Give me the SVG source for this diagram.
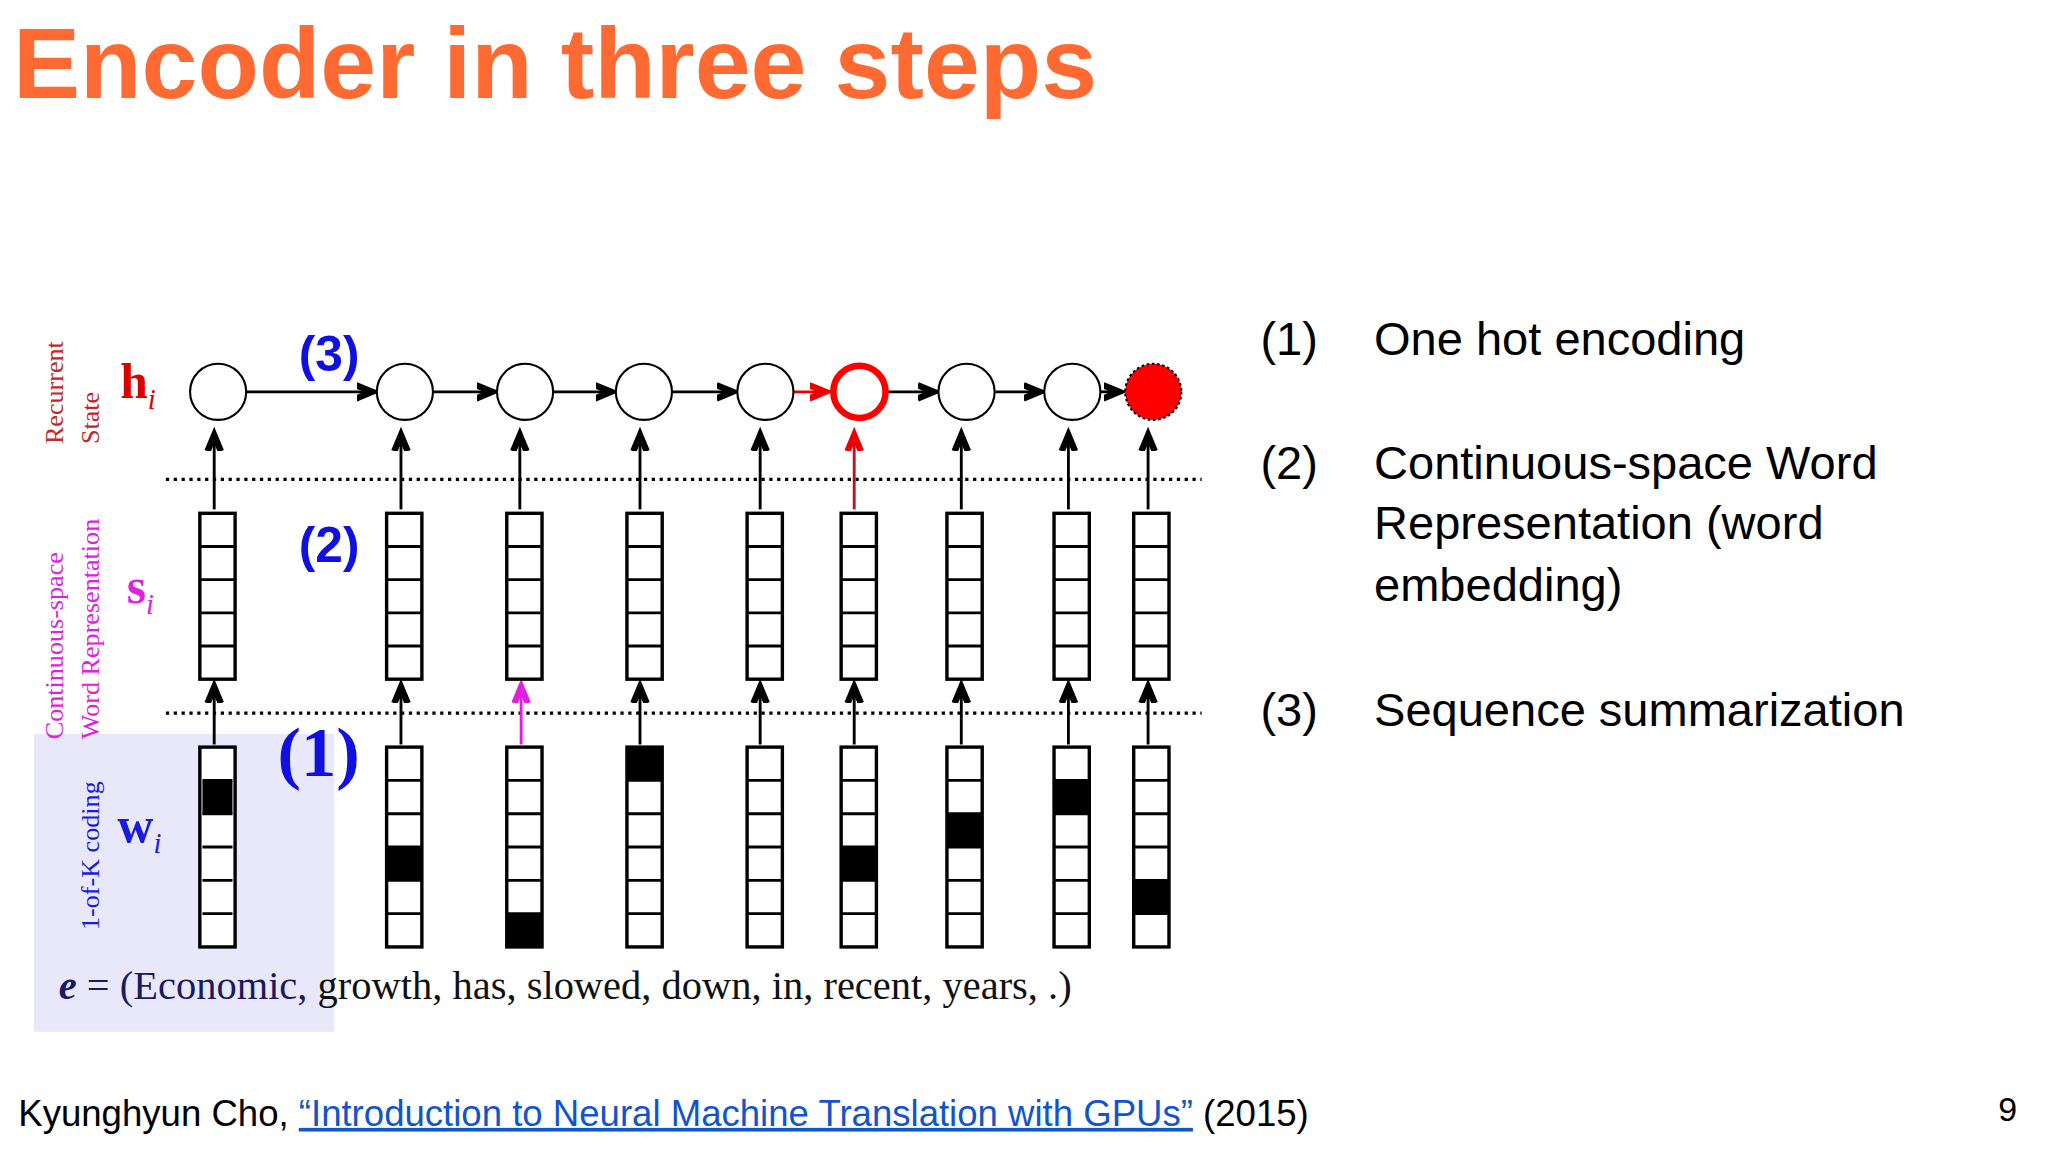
<svg xmlns="http://www.w3.org/2000/svg" width="2048" height="1152" viewBox="0 0 2048 1152">
<defs>
<style>
.sans{font-family:"Liberation Sans",Arial,sans-serif}
.serif{font-family:"Liberation Serif","Times New Roman",serif}
.cell{fill:#fff;stroke:#000;stroke-width:2.6}
.blk{fill:#000}
.ln{stroke:#000;stroke-width:2.2;fill:none}
.dot{stroke:#000;stroke-width:2.5;stroke-dasharray:2.5 3.5}
.rt{font-size:36px;fill:#000}
</style>
<marker id="ah" markerUnits="userSpaceOnUse" markerWidth="30" markerHeight="20" viewBox="-12 -8 24 16" refX="0" refY="0" orient="auto">
<path d="M-12,-5 L0,0 L-12,5 M-17,-5 L-5,0 L-17,5" fill="none" stroke="#000" stroke-width="2"/>
</marker>
<marker id="ahr" markerUnits="userSpaceOnUse" markerWidth="30" markerHeight="20" viewBox="-12 -8 24 16" refX="0" refY="0" orient="auto">
<path d="M-12,-5 L0,0 L-12,5 M-17,-5 L-5,0 L-17,5" fill="none" stroke="#e00" stroke-width="2"/>
</marker>
<marker id="ahm" markerUnits="userSpaceOnUse" markerWidth="30" markerHeight="20" viewBox="-12 -8 24 16" refX="0" refY="0" orient="auto">
<path d="M-12,-5 L0,0 L-12,5 M-17,-5 L-5,0 L-17,5" fill="none" stroke="#e020e0" stroke-width="2"/>
</marker>
</defs>
<rect width="2048" height="1152" fill="#fff"/>
<g transform="scale(1.30612)">
<text x="10" y="75" class="sans" font-size="77" font-weight="bold" fill="#FF6A33">Encoder in three steps</text>

<rect x="26" y="562" width="230" height="228" fill="#E8E8FA"/>

<g id="labels">
<text transform="translate(48,340) rotate(-90)" class="serif" font-size="20" fill="#c0282c">Recurrent</text>
<text transform="translate(76,340) rotate(-90)" class="serif" font-size="20" fill="#c0282c">State</text>
<text transform="translate(48,566) rotate(-90)" class="serif" font-size="20" fill="#e020e0">Continuous-space</text>
<text transform="translate(76,566) rotate(-90)" class="serif" font-size="20" fill="#e020e0">Word Representation</text>
<text transform="translate(76,712) rotate(-90)" class="serif" font-size="20" fill="#1a1ae0">1-of-K coding</text>
<text x="92" y="305" class="serif" font-size="38" font-weight="bold" fill="#d00">h<tspan font-size="22" font-style="italic" font-weight="normal" dy="8">i</tspan></text>
<text x="97" y="462" class="serif" font-size="38" font-weight="bold" fill="#e020e0">s<tspan font-size="22" font-style="italic" font-weight="normal" dy="8">i</tspan></text>
<text x="90" y="645" class="serif" font-size="38" font-weight="bold" fill="#1a1ae0">w<tspan font-size="22" font-style="italic" font-weight="normal" dy="8">i</tspan></text>
<text x="252" y="284" class="sans" font-size="38" font-weight="bold" fill="#1010e0" text-anchor="middle">(3)</text>
<text x="252" y="430" class="sans" font-size="38" font-weight="bold" fill="#1010e0" text-anchor="middle">(2)</text>
<text x="244" y="594" class="serif" font-size="54" font-weight="bold" fill="#1010e0" text-anchor="middle">(1)</text>
<text x="45" y="765" class="serif" font-size="31" fill="#111"><tspan font-weight="bold" font-style="italic" fill="#1a1a60">e</tspan><tspan fill="#1a1a60"> = (Economic,</tspan> growth, has, slowed, down, in, recent, years, .)</text>
</g>

<g id="dotted">
<line class="dot" x1="127" y1="367" x2="920" y2="367"/>
<line class="dot" x1="127" y1="546" x2="920" y2="546"/>
</g>

<g id="connectors">
<line class="ln" x1="189" y1="300" x2="288" y2="300" marker-end="url(#ah)"/>
<line class="ln" x1="332" y1="300" x2="380" y2="300" marker-end="url(#ah)"/>
<line class="ln" x1="424" y1="300" x2="471" y2="300" marker-end="url(#ah)"/>
<line class="ln" x1="515" y1="300" x2="564" y2="300" marker-end="url(#ah)"/>
<line x1="608" y1="300" x2="635" y2="300" stroke="#e00" stroke-width="2.2" marker-end="url(#ahr)"/>
<line class="ln" x1="679" y1="300" x2="718" y2="300" marker-end="url(#ah)"/>
<line class="ln" x1="762" y1="300" x2="799" y2="300" marker-end="url(#ah)"/>
<line class="ln" x1="843" y1="300" x2="860" y2="300" marker-end="url(#ah)"/>
<g id="up1">
<line class="ln" x1="164" y1="390" x2="164" y2="330" marker-end="url(#ah)"/>
<line class="ln" x1="307" y1="390" x2="307" y2="330" marker-end="url(#ah)"/>
<line class="ln" x1="398" y1="390" x2="398" y2="330" marker-end="url(#ah)"/>
<line class="ln" x1="490" y1="390" x2="490" y2="330" marker-end="url(#ah)"/>
<line class="ln" x1="582" y1="390" x2="582" y2="330" marker-end="url(#ah)"/>
<line x1="654" y1="390" x2="654" y2="330" stroke="#c01020" stroke-width="2.2" marker-end="url(#ahr)"/>
<line class="ln" x1="736" y1="390" x2="736" y2="330" marker-end="url(#ah)"/>
<line class="ln" x1="818" y1="390" x2="818" y2="330" marker-end="url(#ah)"/>
<line class="ln" x1="879" y1="390" x2="879" y2="330" marker-end="url(#ah)"/>
</g>
<g id="up2">
<line class="ln" x1="164" y1="570" x2="164" y2="523" marker-end="url(#ah)"/>
<line class="ln" x1="307" y1="570" x2="307" y2="523" marker-end="url(#ah)"/>
<line x1="399" y1="570" x2="399" y2="523" stroke="#e020e0" stroke-width="2.2" marker-end="url(#ahm)"/>
<line class="ln" x1="490" y1="570" x2="490" y2="523" marker-end="url(#ah)"/>
<line class="ln" x1="582" y1="570" x2="582" y2="523" marker-end="url(#ah)"/>
<line class="ln" x1="654" y1="570" x2="654" y2="523" marker-end="url(#ah)"/>
<line class="ln" x1="736" y1="570" x2="736" y2="523" marker-end="url(#ah)"/>
<line class="ln" x1="818" y1="570" x2="818" y2="523" marker-end="url(#ah)"/>
<line class="ln" x1="879" y1="570" x2="879" y2="523" marker-end="url(#ah)"/>
</g>
</g>

<g id="h-nodes" fill="#fff" stroke="#000" stroke-width="1.6">
<circle id="h1" cx="167" cy="300" r="21.5"/>
<circle id="h2" cx="310" cy="300" r="21.5"/>
<circle id="h3" cx="402" cy="300" r="21.5"/>
<circle id="h4" cx="493" cy="300" r="21.5"/>
<circle id="h5" cx="586" cy="300" r="21.5"/>
<circle id="h6" cx="658" cy="300" r="20" stroke="#f00" stroke-width="5"/>
<circle id="h7" cx="740" cy="300" r="21.5"/>
<circle id="h8" cx="821" cy="300" r="21.5"/>
<circle id="h9" cx="883" cy="300" r="21.5" fill="#f00" stroke-dasharray="2 2"/>
</g>

<g id="s-nodes">
<g id="s1"><rect class="cell" x="153" y="393" width="27" height="127"/><path class="ln" stroke-width="2.6" d="M153,418.4h27M153,443.8h27M153,469.2h27M153,494.6h27"/></g>
<g id="s2"><rect class="cell" x="296" y="393" width="27" height="127"/><path class="ln" stroke-width="2.6" d="M296,418.4h27M296,443.8h27M296,469.2h27M296,494.6h27"/></g>
<g id="s3"><rect class="cell" x="388" y="393" width="27" height="127" stroke="#e020e0" stroke-width="3.5"/><path class="ln" stroke-width="2.6" d="M389,418.4h25M389,443.8h25M389,469.2h25M389,494.6h25"/></g>
<g id="s4"><rect class="cell" x="480" y="393" width="27" height="127"/><path class="ln" stroke-width="2.6" d="M480,418.4h27M480,443.8h27M480,469.2h27M480,494.6h27"/></g>
<g id="s5"><rect class="cell" x="572" y="393" width="27" height="127"/><path class="ln" stroke-width="2.6" d="M572,418.4h27M572,443.8h27M572,469.2h27M572,494.6h27"/></g>
<g id="s6"><rect class="cell" x="644" y="393" width="27" height="127"/><path class="ln" stroke-width="2.6" d="M644,418.4h27M644,443.8h27M644,469.2h27M644,494.6h27"/></g>
<g id="s7"><rect class="cell" x="725" y="393" width="27" height="127"/><path class="ln" stroke-width="2.6" d="M725,418.4h27M725,443.8h27M725,469.2h27M725,494.6h27"/></g>
<g id="s8"><rect class="cell" x="807" y="393" width="27" height="127"/><path class="ln" stroke-width="2.6" d="M807,418.4h27M807,443.8h27M807,469.2h27M807,494.6h27"/></g>
<g id="s9"><rect class="cell" x="868" y="393" width="27" height="127"/><path class="ln" stroke-width="2.6" d="M868,418.4h27M868,443.8h27M868,469.2h27M868,494.6h27"/></g>
</g>

<g id="w-nodes">
<g id="w1"><rect class="cell" x="153" y="572" width="27" height="153" stroke="#1010e0" stroke-width="4"/><rect class="blk" x="155" y="598" width="23" height="25"/><path class="ln" stroke-width="2.6" d="M155,597.5h23M155,623h23M155,648.5h23M155,674h23M155,699.5h23"/></g>
<g id="w2"><rect class="cell" x="296" y="572" width="27" height="153"/><rect class="blk" x="296" y="648.5" width="27" height="25.5"/><path class="ln" stroke-width="2.6" d="M296,597.5h27M296,623h27M296,648.5h27M296,674h27M296,699.5h27"/></g>
<g id="w3"><rect class="cell" x="388" y="572" width="27" height="153"/><rect class="blk" x="388" y="699.5" width="27" height="25.5"/><path class="ln" stroke-width="2.6" d="M388,597.5h27M388,623h27M388,648.5h27M388,674h27M388,699.5h27"/></g>
<g id="w4"><rect class="cell" x="480" y="572" width="27" height="153"/><rect class="blk" x="480" y="572" width="27" height="25.5"/><path class="ln" stroke-width="2.6" d="M480,597.5h27M480,623h27M480,648.5h27M480,674h27M480,699.5h27"/></g>
<g id="w5"><rect class="cell" x="572" y="572" width="27" height="153"/><path class="ln" stroke-width="2.6" d="M572,597.5h27M572,623h27M572,648.5h27M572,674h27M572,699.5h27"/></g>
<g id="w6"><rect class="cell" x="644" y="572" width="27" height="153"/><rect class="blk" x="644" y="648.5" width="27" height="25.5"/><path class="ln" stroke-width="2.6" d="M644,597.5h27M644,623h27M644,648.5h27M644,674h27M644,699.5h27"/></g>
<g id="w7"><rect class="cell" x="725" y="572" width="27" height="153"/><rect class="blk" x="725" y="623" width="27" height="25.5"/><path class="ln" stroke-width="2.6" d="M725,597.5h27M725,623h27M725,648.5h27M725,674h27M725,699.5h27"/></g>
<g id="w8"><rect class="cell" x="807" y="572" width="27" height="153"/><rect class="blk" x="807" y="597.5" width="27" height="25.5"/><path class="ln" stroke-width="2.6" d="M807,597.5h27M807,623h27M807,648.5h27M807,674h27M807,699.5h27"/></g>
<g id="w9"><rect class="cell" x="868" y="572" width="27" height="153"/><rect class="blk" x="868" y="674" width="27" height="25.5"/><path class="ln" stroke-width="2.6" d="M868,597.5h27M868,623h27M868,648.5h27M868,674h27M868,699.5h27"/></g>
</g>

<g id="right-text" class="sans">
<text x="965" y="272" class="rt">(1)</text><text x="1052" y="272" class="rt">One hot encoding</text>
<text x="965" y="367" class="rt">(2)</text><text x="1052" y="367" class="rt">Continuous-space Word</text>
<text x="1052" y="413" class="rt">Representation (word</text>
<text x="1052" y="460" class="rt">embedding)</text>
<text x="965" y="556" class="rt">(3)</text><text x="1052" y="556" class="rt">Sequence summarization</text>
</g>

<g id="footer" class="sans" font-size="28">
<text x="14" y="862" fill="#000">Kyunghyun Cho, <tspan fill="#1155cc" text-decoration="underline">“Introduction to Neural Machine Translation with GPUs”</tspan> (2015)</text>
<text x="1530" y="858" fill="#000" font-size="26">9</text>
</g>
</g>
</svg>
